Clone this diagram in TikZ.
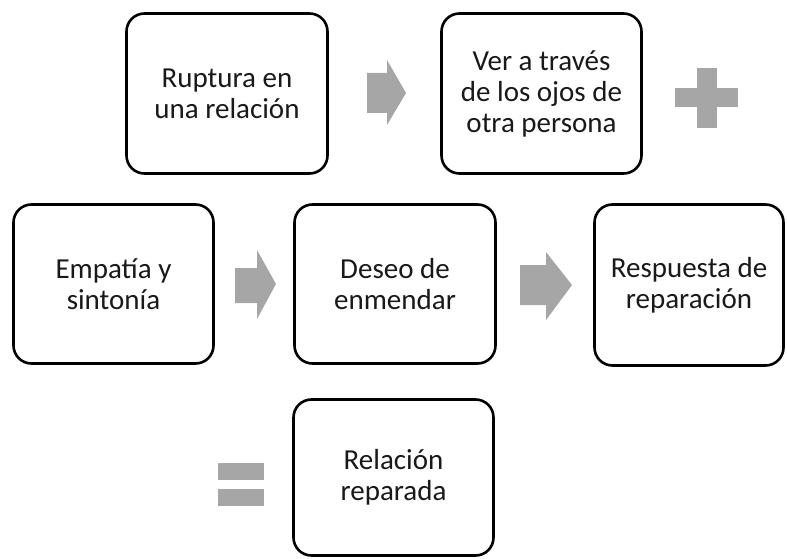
\documentclass[tikz,border=0pt]{standalone}
\usepackage{fontspec}
\setmainfont{Carlito}
\usetikzlibrary{positioning}
\definecolor{grisflecha}{HTML}{A6A6A6}

\begin{document}
\begin{tikzpicture}[x=1pt, y=-1pt,
	caja/.style={draw=black, line width=2.6pt, rounded corners=18pt, fill=white,
		align=center, inner sep=0pt, text=black!90,
		font=\fontsize{29}{31}\selectfont},
	signo/.style={fill=grisflecha}]
		%%%	Margini
		\useasboundingbox (0,0) rectangle (787,559);
		
		%%% Caselle
		\node [caja, minimum width=201pt, minimum height=160pt] (ruptura) at (227,93.5) {Ruptura en\\una relación};
		\node [caja, minimum width=200pt, minimum height=160pt] (ojos) at (541.5,93.5) {Ver a través\\de los ojos de\\otra persona};
		\node [caja, minimum width=200pt, minimum height=159pt] (empatia) at (113.5,284) {Empatía y\\sintonía};
		\node [caja, minimum width=201pt, minimum height=159pt] (deseo) at (395,284) {Deseo de\\enmendar};
		\node [caja, minimum width=189pt, minimum height=161pt] (respuesta) at (689,285) {Respuesta de\\reparación};
		\node [caja, minimum width=200pt, minimum height=156pt] (reparada) at (393.5,477.5) {Relación\\reparada};
		
		%%% Frecce
		\fill[signo] (367,73) -- (387,73) -- (387,60) -- (406,93) -- (387,125) -- (387,113) -- (367,113) -- cycle;
		\fill[signo] (235,268) -- (257,268) -- (257,250) -- (276,284) -- (257,319) -- (257,303) -- (235,303) -- cycle;
		\fill[signo] (520,265) -- (546,265) -- (546,252) -- (572,285) -- (546,320) -- (546,305) -- (520,305) -- cycle;
		
		%%% Piu e uguale
		\fill[signo] (697,68) rectangle (717,128);
		\fill[signo] (675,88) rectangle (738,107);
		\fill[signo] (218,463) rectangle (264,480);
		\fill[signo] (218,489) rectangle (264,506);
	\end{tikzpicture}
\end{document}
